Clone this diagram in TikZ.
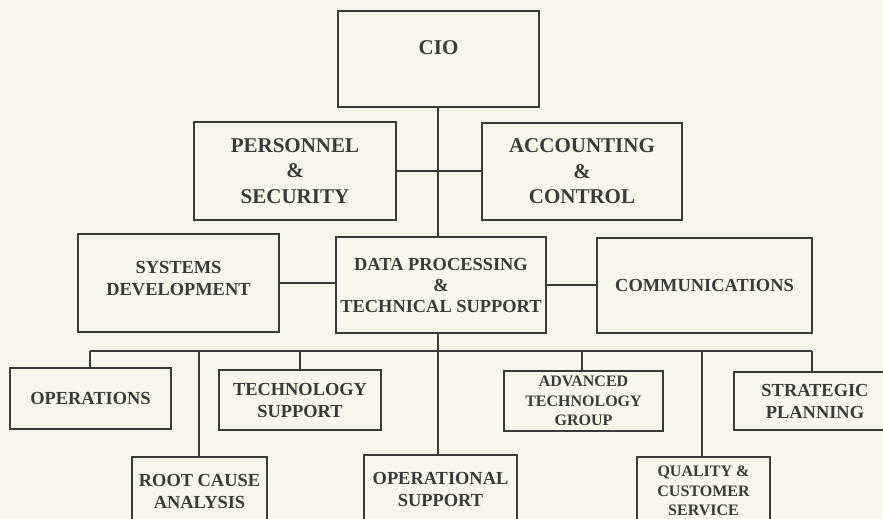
\documentclass[tikz,border=0pt]{standalone}
\usepackage{fontspec}
\setmainfont{Liberation Serif}
\definecolor{bgc}{RGB}{248,246,234}
\definecolor{ink}{RGB}{58,58,56}
\tikzset{
  box/.style={draw=ink, line width=1.3pt, rectangle, inner sep=0pt, align=center, text=ink},
  big/.style={font=\fontsize{21}{25.5}\selectfont\bfseries},
  mid/.style={font=\fontsize{18.4}{22}\selectfont\bfseries},
  sml/.style={font=\fontsize{16}{19.5}\selectfont\bfseries},
  wire/.style={draw=ink, line width=1.3pt}
}
\begin{document}
\begin{tikzpicture}[x=1pt,y=-1pt]
\fill[bgc] (0,0) rectangle (883,519);
\useasboundingbox (0,0) rectangle (883,519);
\clip (0,0) rectangle (883,519);
% top
\node[box,big,minimum width=201pt,minimum height=96pt] (cio) at (438.5,59) {CIO\\[-2pt]\mbox{}};
\node[box,big,minimum width=202pt,minimum height=98pt] (pers) at (295,171) {PERSONNEL\\\&\\SECURITY};
\node[box,big,minimum width=200pt,minimum height=97pt] (acct) at (582,171.5) {ACCOUNTING\\\&\\CONTROL};
% middle
\node[box,mid,minimum width=201pt,minimum height=98pt] (sysd) at (178.5,283) {SYSTEMS\\DEVELOPMENT\\[-13pt]\mbox{}};
\node[box,mid,minimum width=210pt,minimum height=96pt] (dp) at (441,285) {DATA PROCESSING\\[-1pt]\&\\[-1pt]TECHNICAL SUPPORT};
\node[box,mid,minimum width=215pt,minimum height=95pt] (comm) at (704.5,285.5) {COMMUNICATIONS};
% lower row
\node[box,mid,minimum width=161pt,minimum height=61pt] (ops) at (90.5,398.5) {OPERATIONS};
\node[box,mid,minimum width=162pt,minimum height=60pt] (tech) at (300,400) {TECHNOLOGY\\SUPPORT};
\node[box,sml,minimum width=159pt,minimum height=60pt] (adv) at (583.5,401) {ADVANCED\\TECHNOLOGY\\GROUP};
\node[box,mid,minimum width=162pt,minimum height=58pt] (strat) at (815,401) {STRATEGIC\\PLANNING};
% bottom row
\node[box,mid,minimum width=135pt,minimum height=68pt] (root) at (199.5,491) {ROOT CAUSE\\ANALYSIS};
\node[box,mid,minimum width=153pt,minimum height=68pt] (opsup) at (440.5,489) {OPERATIONAL\\SUPPORT};
\node[box,sml,minimum width=133pt,minimum height=68pt] (qual) at (703.5,491) {QUALITY \&\\CUSTOMER\\SERVICE};
% connectors
\coordinate (spine) at (438,351);
\coordinate (bOps) at (90,351);
\coordinate (bRoot) at (199,351);
\coordinate (bTech) at (300,351);
\coordinate (bAdv) at (582,351);
\coordinate (bQual) at (702,351);
\coordinate (bStrat) at (812,351);
\draw[wire] (spine |- cio.south) -- (spine |- dp.north);
\draw[wire] (pers.east) -- (pers.east -| acct.west);
\draw[wire] (sysd.east) -- (sysd.east -| dp.west);
\draw[wire] (dp.east) -- (dp.east -| comm.west);
\draw[wire] (spine |- dp.south) -- (spine |- opsup.north);
\draw[wire] (bOps) -- (bStrat);
\draw[wire] (bOps) -- (bOps |- ops.north);
\draw[wire] (bRoot) -- (bRoot |- root.north);
\draw[wire] (bTech) -- (bTech |- tech.north);
\draw[wire] (bAdv) -- (bAdv |- adv.north);
\draw[wire] (bQual) -- (bQual |- qual.north);
\draw[wire] (bStrat) -- (bStrat |- strat.north);
\end{tikzpicture}
\end{document}
